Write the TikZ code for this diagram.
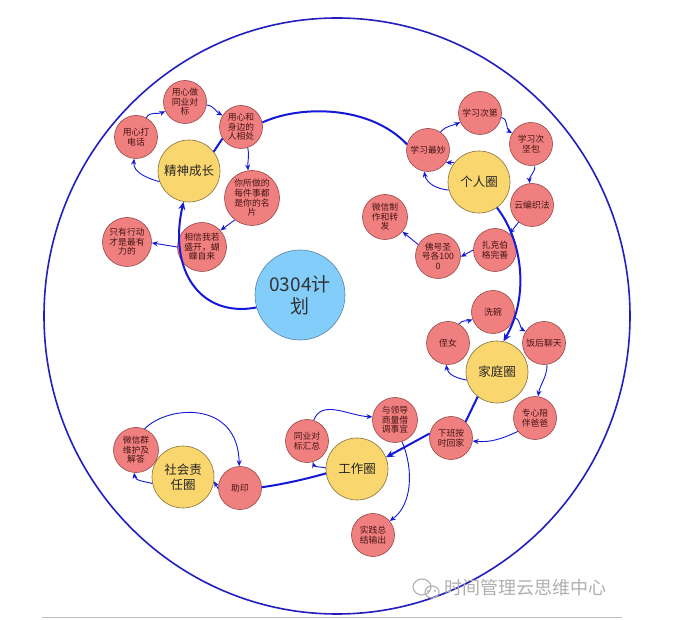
\documentclass[tikz,border=0pt]{standalone}
\usepackage{fontspec}
\newfontfamily\cjk{Noto Sans CJK SC}
\usetikzlibrary{arrows.meta}
\definecolor{ringblue}{RGB}{35,30,190}
\definecolor{arrblue}{RGB}{20,25,215}
\definecolor{redfill}{RGB}{240,128,128}
\definecolor{redline}{RGB}{150,70,70}
\definecolor{yelfill}{RGB}{250,215,110}
\definecolor{yelline}{RGB}{130,110,60}
\definecolor{planfill}{RGB}{130,205,250}
\definecolor{planline}{RGB}{90,130,165}
\definecolor{redtext}{RGB}{70,20,20}
\definecolor{wmgray}{RGB}{175,175,175}
\begin{document}
\begin{tikzpicture}[x=1pt,y=1pt,
  rednode/.style={circle,draw=redline,fill=redfill,line width=0.6pt,inner sep=0pt,minimum size=43pt,align=center,text=redtext,font=\cjk\fontsize{8.8}{9.6}\selectfont},
  yelnode/.style={circle,draw=yelline,fill=yelfill,line width=0.6pt,inner sep=0pt,minimum size=62pt,align=center,text=black!85,font=\cjk\fontsize{12.5}{15}\selectfont},
  plannode/.style={circle,draw=planline,fill=planfill,line width=0.6pt,inner sep=0pt,minimum size=90pt,align=center,text=black!80,font=\cjk\fontsize{19}{22}\selectfont},
  arr/.style={draw=arrblue,line width=0.9pt,-{Stealth[length=6pt,width=5pt]}},
  thick/.style={draw=arrblue,line width=2pt},
  thickarr/.style={draw=arrblue,line width=2pt,-{Stealth[length=8pt,width=7pt]}}]
\useasboundingbox (0,0) rectangle (689,-620);
\fill[white] (0,0) rectangle (689,-620);
% outer ring
\draw[ringblue,line width=1.6pt] (337,-316) ellipse [x radius=293, y radius=298];
% bottom line
\draw[black!25,line width=0.6pt] (42,-617) -- (622,-617);
% center
\node[plannode] (plan) at (300,-295) {0304计\\划};
% 精神成长 group
\node[yelnode] (jscz) at (189,-171) {精神成长};
\node[rednode] (ydh) at (136,-137) {用心打\\电话};
\node[rednode] (ytb) at (185,-102) {用心做\\同业对\\标};
\node[rednode] (yxc) at (241,-127) {用心和\\身边的\\人相处};
\node[rednode,minimum size=55pt] (nsz) at (252,-198) {你所做的\\每件事都\\是你的名\\片};
\node[rednode,minimum size=49pt] (xxwr) at (202,-247) {相信我若\\盛开，蝴\\蝶自来};
\node[rednode,minimum size=49pt] (zyxd) at (127,-242) {只有行动\\才是最有\\力的};
% 个人圈 group
\node[yelnode] (grq) at (479,-182) {个人圈};
\node[rednode] (xxzm) at (428,-150) {学习最妙};
\node[rednode] (xxcd) at (480,-113) {学习次第};
\node[rednode] (xxjb) at (531,-144) {学习次\\坚包};
\node[rednode] (ybz) at (532,-205) {云编织法};
\node[rednode] (zkbg) at (495,-250) {扎克伯\\格完善};
\node[rednode,minimum size=45pt] (fh) at (438,-256) {佛号圣\\号各100\\0};
\node[rednode,minimum size=45pt] (wxzz) at (385,-217) {微信制\\作和转\\发};
% 家庭圈 group
\node[yelnode] (jtq) at (497,-372) {家庭圈};
\node[rednode] (xw) at (493,-312) {洗碗};
\node[rednode] (zn) at (448,-343) {侄女};
\node[rednode] (fhlt) at (544,-343) {饭后聊天};
\node[rednode] (zxpb) at (535,-418) {专心陪\\伴爸爸};
\node[rednode] (xbaj) at (451,-438) {下班按\\时回家};
% 工作圈 group
\node[yelnode] (gzq) at (357,-469) {工作圈};
\node[rednode] (tydb) at (307,-441) {同业对\\标汇总};
\node[rednode,minimum size=45pt] (yld) at (395,-420) {与领导\\商量借\\调事宜};
\node[rednode] (sjzj) at (373,-535) {实践总\\结输出};
% 社会责任圈 group
\node[yelnode] (shzr) at (183,-477) {社会责\\任圈};
\node[rednode,minimum size=45pt] (wxq) at (136,-450) {微信群\\维护及\\解答};
\node[rednode] (zy) at (240,-488) {助印};
% thick backbone
\draw[thickarr] (plan.196) .. controls (200,-318) and (168,-270) .. (jscz.-100);
\draw[thick] (jscz.38) -- (yxc.212);
\draw[thick] (yxc.12) .. controls (300,-105) and (370,-105) .. (xxzm.165);
\draw[arr] (grq.142) -- (xxzm.-35);
\draw[thickarr] (grq.-55) .. controls (522,-240) and (530,-295) .. (jtq.78);
\draw[thick] (jtq.232) -- (xbaj.48);
\draw[thickarr] (xbaj.168) -- (gzq.22);
\draw[thick] (gzq.188) .. controls (310,-478) and (285,-484) .. (zy.2);
\draw[arr] (zy.182) -- (shzr.-8);
% 精神成长 loop
\draw[arr] (jscz.200) to[out=165,in=-95] (ydh.-95);
\draw[arr] (ydh.62) to[out=60,in=205] (ytb.205);
\draw[arr] (ytb.-8) to[out=-5,in=150] (yxc.148);
\draw[arr] (yxc.-72) to[out=-78,in=95] (nsz.98);
\draw[arr] (nsz.232) -- (xxwr.42);
\draw[arr] (xxwr.180) -- (zyxd.-2);
% 个人圈 loop
\draw[arr] (grq.195) to[out=175,in=-80] (xxzm.-100);
\draw[arr] (xxzm.55) to[out=50,in=205] (xxcd.205);
\draw[arr] (xxcd.-12) to[out=-10,in=150] (xxjb.150);
\draw[arr] (xxjb.-80) to[out=-85,in=95] (ybz.96);
\draw[arr] (ybz.232) -- (zkbg.48);
\draw[arr] (zkbg.180) -- (fh.-2);
\draw[arr] (fh.150) -- (wxzz.-40);
% 家庭圈 loop
\draw[arr] (jtq.195) to[out=170,in=-80] (zn.-95);
\draw[arr] (zn.60) to[out=55,in=200] (xw.200);
\draw[arr] (xw.-15) to[out=-12,in=150] (fhlt.148);
\draw[arr] (fhlt.-82) to[out=-90,in=80] (zxpb.82);
\draw[arr] (zxpb.218) to[out=205,in=-5] (xbaj.-8);
% 工作圈 loop
\draw[arr] (gzq.178) to[out=165,in=-70] (tydb.-75);
\draw[arr] (tydb.72) to[out=70,in=178] (yld.172);
\draw[arr] (yld.-72) .. controls (414,-470) and (412,-505) .. (sjzj.40);
% 社会责任圈 loop
\draw[arr] (shzr.192) to[out=165,in=-80] (wxq.-95);
\draw[arr] (wxq.68) .. controls (168,-405) and (238,-400) .. (zy.92);
% watermark
\begin{scope}[wmgray,line width=1.1pt]
  \draw (422,-587) ellipse [x radius=9, y radius=8];
  \draw (432,-592) ellipse [x radius=7, y radius=6];
  \fill (428,-591) circle (1.1);
  \fill (435,-591) circle (1.1);
\end{scope}
\node[text=wmgray,font=\cjk\fontsize{18}{20}\selectfont,inner sep=0pt,anchor=west] (wm) at (444,-588) {时间管理云思维中心};
\end{tikzpicture}
\end{document}
